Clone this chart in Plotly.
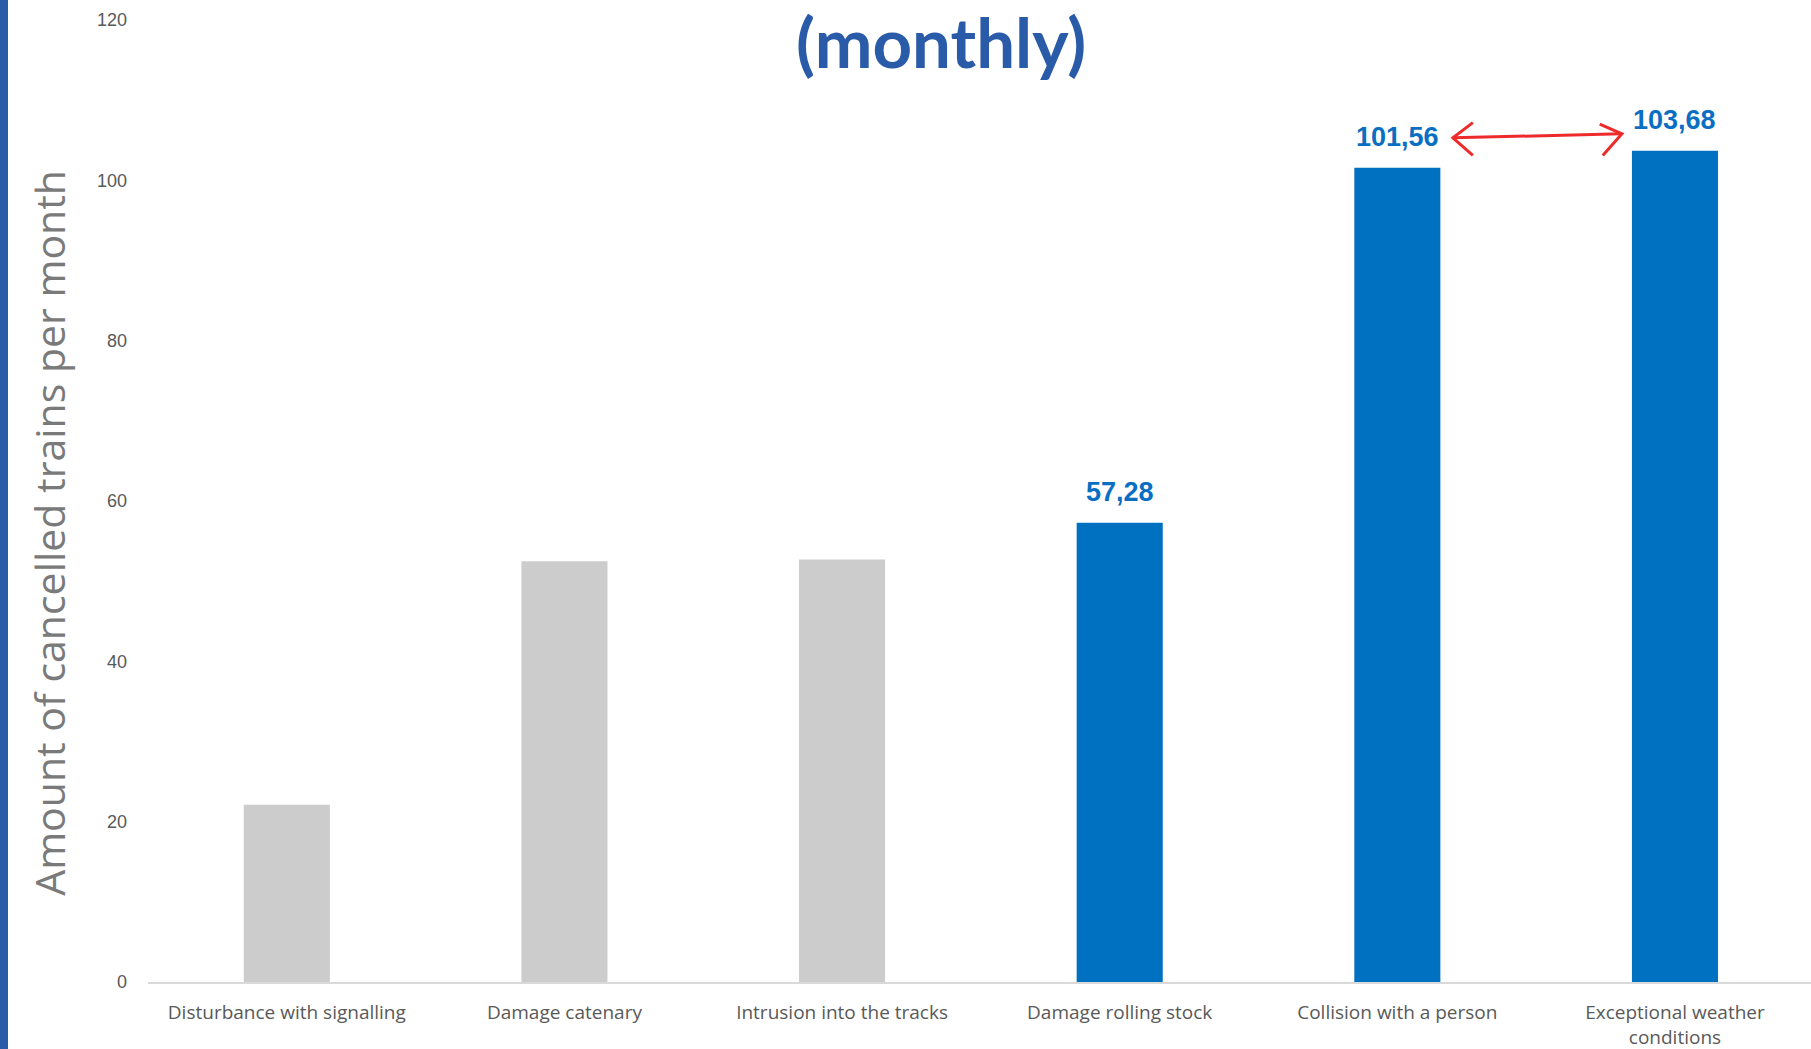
import plotly.graph_objects as go

# Cancelled trains per month by cause
categories = [
    "Disturbance with signalling",
    "Damage catenary",
    "Intrusion into the tracks",
    "Damage rolling stock",
    "Collision with a person",
    "Exceptional weather<br>conditions",
]
cancelled_per_month = [22.1, 52.5, 52.7, 57.28, 101.56, 103.68]
highlighted = [False, False, False, True, True, True]

y_ticks = [0, 20, 40, 60, 80, 100, 120]

GREY = "#CCCCCC"
BLUE = "#0070C0"
LABEL_BLUE = "#0A6FC2"
TITLE_BLUE = "#2A5BA8"
ARROW_RED = "#EE2B2B"
TEXT_GREY = "#595959"

x_pos = list(range(len(categories)))
bar_colors = [BLUE if h else GREY for h in highlighted]

fig = go.Figure()
fig.add_trace(go.Bar(
    x=x_pos,
    y=cancelled_per_month,
    marker=dict(color=bar_colors, line=dict(width=0)),
    width=0.31,
    hoverinfo="skip",
))

annotations = []
# Value labels above the highlighted bars
for x, v, h in zip(x_pos, cancelled_per_month, highlighted):
    if h:
        annotations.append(dict(
            x=x, y=v, xref="x", yref="y",
            text=f"{v:.2f}".replace(".", ","),
            showarrow=False, yanchor="bottom", yshift=14,
            font=dict(family="Liberation Sans, Arial, sans-serif", size=27,
                      color=LABEL_BLUE, weight="bold"),
        ))

# Heading
annotations.append(dict(
    x=0.4768, y=0.978, xref="paper", yref="paper",
    text="<b>(monthly)</b>", showarrow=False,
    xanchor="center", yanchor="middle",
    font=dict(family="Lato, sans-serif", size=69, color=TITLE_BLUE),
))

# Vertical axis title
annotations.append(dict(
    x=-0.0595, y=0.467, xref="paper", yref="paper",
    text="Amount of cancelled trains per month", showarrow=False,
    textangle=-90, xanchor="center", yanchor="middle",
    font=dict(family="Open Sans, sans-serif", size=41, color="#7A7A7A"),
))

# Hand-drawn style double arrow between the two largest bars
a, b = 4, 5
shapes = [
    dict(type="line", xref="x", yref="y",
         x0=a + 0.200, y0=105.3, x1=b - 0.191, y1=105.8,
         line=dict(color=ARROW_RED, width=3)),
    dict(type="path", xref="x", yref="y",
         path=f"M {a + 0.272} 107.2 L {a + 0.200} 105.3 L {a + 0.272} 103.1",
         line=dict(color=ARROW_RED, width=3)),
    dict(type="path", xref="x", yref="y",
         path=f"M {b - 0.271} 107.0 L {b - 0.191} 105.8 L {b - 0.260} 103.1",
         line=dict(color=ARROW_RED, width=3)),
    # blue stripe on the page's left edge
    dict(type="rect", xref="paper", yref="paper",
         x0=-148 / 1663, x1=-140 / 1663, y0=-0.1, y1=1.05,
         fillcolor=TITLE_BLUE, line=dict(width=0), layer="above"),
]

fig.update_layout(
    width=1811, height=1049,
    margin=dict(l=148, r=0, t=20, b=67),
    paper_bgcolor="white", plot_bgcolor="white",
    showlegend=False,
    bargap=0.69,
    annotations=annotations,
    shapes=shapes,
    xaxis=dict(
        range=[-0.5, 5.49],
        tickvals=x_pos, ticktext=categories,
        showgrid=False, zeroline=False,
        showline=True, linecolor="#D9D9D9", linewidth=2,
        ticks="", ticklabelstandoff=12,
        tickfont=dict(family="Open Sans, sans-serif", size=19, color=TEXT_GREY),
    ),
    yaxis=dict(
        range=[0, 120],
        tickvals=y_ticks,
        showgrid=False, zeroline=False, showline=False,
        ticks="", ticklabelstandoff=20,
        tickfont=dict(family="Liberation Sans, Arial, sans-serif", size=18,
                      color=TEXT_GREY),
    ),
)

fig.write_html("out.html")
